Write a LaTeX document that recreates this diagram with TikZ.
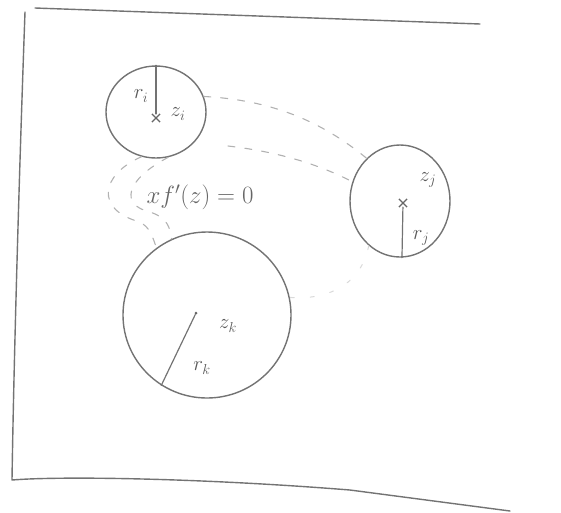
\documentclass[tikz,border=0pt]{standalone}
\usetikzlibrary{shapes.geometric,shapes.misc}
\begin{document}
\begin{tikzpicture}[x=1pt,y=-1pt,
  pencil/.style={draw=black!55,line width=1.4pt,line cap=round,line join=round},
  disk/.style={ellipse,pencil,inner sep=0pt},
  crossmark/.style={cross out,draw=black!60,line width=1.2pt,minimum size=7pt,inner sep=0pt},
  dotmark/.style={circle,fill=black!60,minimum size=3pt,inner sep=0pt},
  faintdash/.style={draw=black!30,line width=1.1pt,dash pattern=on 7pt off 10pt,line cap=round},
  fainterdash/.style={draw=black!15,line width=1pt,dash pattern=on 4pt off 16pt,line cap=round},
  lbl/.style={text=black!65,font=\fontsize{20}{24}\selectfont,inner sep=0pt},
  eqlbl/.style={text=black!60,font=\fontsize{23}{27}\selectfont,inner sep=0pt}]
\useasboundingbox (0,0) rectangle (561,512);
% frame
\draw[pencil] (35,8) -- (480,24);
\draw[pencil] (25,12) .. controls (20,150) and (14,350) .. (12,480)
  .. controls (60,476) and (200,478) .. (350,490) -- (510,511);
% discs
\node[disk,minimum width=100pt,minimum height=92pt] (A) at (156,112) {};
\node[disk,minimum width=100pt,minimum height=112pt] (B) at (400,201) {};
\node[disk,minimum width=168pt,minimum height=166pt] (C) at (207,315) {};
% centres
\node[crossmark] (zi) at (156,118) {};
\node[crossmark] (zj) at (403,203) {};
\node[dotmark] (zk) at (196,313) {};
% radii
\draw[pencil,line width=1.2pt] (A.north) -- (zi);
\draw[pencil,line width=1.2pt] (zj) -- (B.272);
\draw[pencil,line width=1.2pt] (zk) -- (C.237);
% labels
\node[lbl] (ri) at (141,96) {$r_i$};
\node[lbl] (zil) at (178,114) {$z_i$};
\node[lbl] (zjl) at (428,180) {$z_j$};
\node[lbl] (rjl) at (421,238) {$r_j$};
\node[lbl] (zkl) at (228,326) {$z_k$};
\node[lbl] (rkl) at (202,368) {$r_k$};
\node[eqlbl] (eq) at (200,197) {$x f'(z)=0$};
% dashed connectors
\coordinate (lowstart) at (228,146);
\draw[faintdash] (A.18) .. controls (270,100) and (320,120) .. (B.128);
\draw[faintdash] (lowstart) .. controls (280,152) and (320,165) .. (B.158);
\draw[faintdash] (A.252) .. controls (100,175) and (95,210) .. (140,222)
  .. controls (150,228) and (152,235) .. (C.127);
\draw[faintdash] (A.285) .. controls (125,180) and (120,205) .. (150,212)
  .. controls (168,218) and (170,228) .. (C.115);
\draw[fainterdash] (B.235) .. controls (360,290) and (320,300) .. (C.12);
\end{tikzpicture}
\end{document}
